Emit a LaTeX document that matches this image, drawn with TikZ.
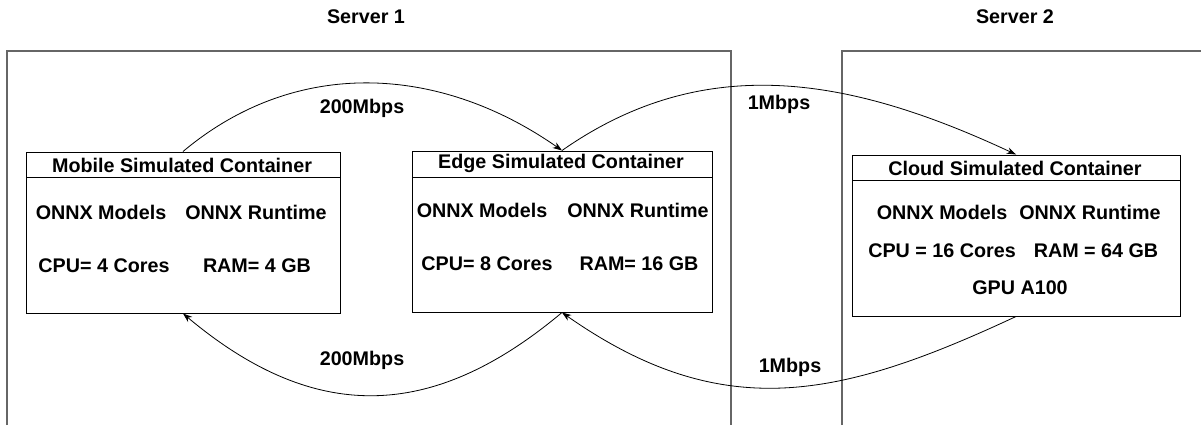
\documentclass[tikz,border=0pt]{standalone}
\usepackage{fontspec}
\setmainfont{Liberation Sans}
\usepackage{tikz}
\usetikzlibrary{arrows.meta}
\tikzset{every picture/.style={line width=0.75pt}}
\definecolor{framegray}{RGB}{102,102,102}
\tikzset{
  lbl/.style={inner sep=0.75pt, font=\fontsize{14.8}{17}\selectfont\bfseries},
  boxhead/.style={draw, inner sep=0pt, minimum height=#1},
  boxbody/.style={draw, inner sep=0pt, minimum height=#1},
  link/.style={-{Stealth[length=7pt,width=5pt]}, line width=0.6pt},
}

\begin{document}
\begin{tikzpicture}[x=0.75pt,y=0.75pt,yscale=-1,xscale=1]
\useasboundingbox (0,0) rectangle (1201,425);

%Shape: Server frames
\draw [color=framegray, line width=1.1pt] (7,425) -- (7,51) -- (731,51) -- (731,425) ;
\draw [color=framegray, line width=1.1pt] (842,425) -- (842,51) -- (1201,51) ;

% Text Node
\node [lbl] (srv1) at (366,17) {Server 1};
% Text Node
\node [lbl] (srv2) at (1015,17) {Server 2};

%Shape: Mobile container
\node [boxhead=18.75pt, minimum width=235.5pt] (mobhead) at (183,164.5) {};
\node [boxbody=102pt, minimum width=235.5pt] (mobbody) at (183,245) {};
%Shape: Edge container
\node [boxhead=19.5pt, minimum width=225pt] (edgehead) at (562,164) {};
\node [boxbody=101.25pt, minimum width=225pt] (edgebody) at (562,244.5) {};
%Shape: Cloud container
\node [boxhead=18.75pt, minimum width=246pt] (cloudhead) at (1016,167.5) {};
\node [boxbody=102pt, minimum width=246pt] (cloudbody) at (1016,248) {};

% Text Node
\node [lbl] (mobtitle) at (182,165) {Mobile Simulated Container};
\node [lbl] (mobmod) at (101,212) {ONNX Models};
\node [lbl] (mobrt) at (256,212) {ONNX Runtime};
\node [lbl] (mobcpu) at (104,266) {CPU= 4 Cores};
\node [lbl] (mobram) at (257,266) {RAM= 4 GB};
% Text Node
\node [lbl] (edgetitle) at (561,163) {Edge Simulated Container};
\node [lbl] (edgemod) at (482,210) {ONNX Models};
\node [lbl] (edgert) at (638,210) {ONNX Runtime};
\node [lbl] (edgecpu) at (487,264) {CPU= 8 Cores};
\node [lbl] (edgeram) at (639,264) {RAM= 16 GB};
% Text Node
\node [lbl] (cloudtitle) at (1015,168) {Cloud Simulated Container};
\node [lbl] (cloudmod) at (942,212) {ONNX Models};
\node [lbl] (cloudrt) at (1090,212) {ONNX Runtime};
\node [lbl] (cloudcpu) at (942,251) {CPU = 16 Cores};
\node [lbl] (cloudram) at (1096,251) {RAM = 64 GB};
\node [lbl] (cloudgpu) at (1020,288) {GPU A100};

%Curve Lines
\draw [link] (mobhead.north) to [out=-40, in=-145] (edgehead.north) ;
\draw [link] (edgehead.north) to [out=-35, in=-155] (cloudhead.north) ;
\draw [link] (edgebody.south) to [out=140, in=40, looseness=1.15] (mobbody.south) ;
\draw [link] (cloudbody.south) to [out=155, in=35, looseness=1.1] (edgebody.south) ;

% Text Node
\node [lbl] (bw1) at (362,108) {200Mbps};
\node [lbl] (bw2) at (779,104) {1Mbps};
\node [lbl] (bw3) at (362,360) {200Mbps};
\node [lbl] (bw4) at (790,367) {1Mbps};

\end{tikzpicture}
\end{document}
